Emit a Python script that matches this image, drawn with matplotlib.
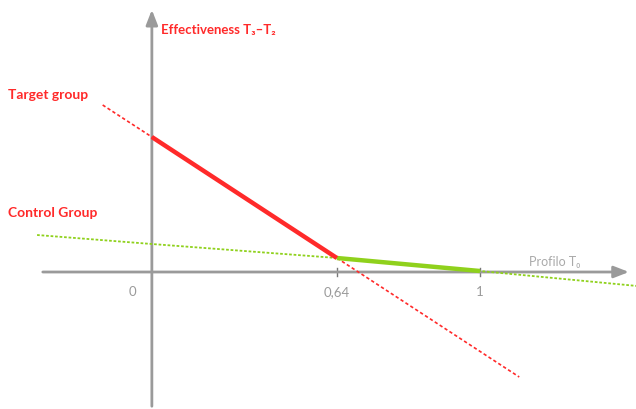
import numpy as np
import matplotlib
matplotlib.use("Agg")
import matplotlib.pyplot as plt

plt.rcParams['font.family'] = ['Lato', 'DejaVu Sans']

# tick values and labels on the profile axis
x_ticks = [0, 0.64, 1]
x_labels = ["0", "0,64", "1"]

# target group line (dashed extension + solid segment)
red_x = [-0.15, 0, 0.64, 1.12]
red_y = [1.67, 1.35, 0.14, -1.05]
red_solid_x = [0, 0.64]
red_solid_y = [1.35, 0.14]

# control group line
green_x = [-0.35, 0, 0.64, 1, 1.48]
green_y = [0.37, 0.28, 0.14, 0.01, -0.14]
green_solid_x = [0.64, 1]
green_solid_y = [0.14, 0.01]

# schematic axis: 0.64 is not drawn to scale in the original
brk_in = [-5, 0, 0.64, 1, 5]
brk_out = [-5, 0, 0.564, 1, 5]
def fwd(v):
    return np.interp(v, brk_in, brk_out)
def inv(v):
    return np.interp(v, brk_out, brk_in)

fig = plt.figure(figsize=(6.36, 4.10), dpi=100)
ax = fig.add_axes([0, 0, 1, 1])
ax.set_xscale('function', functions=(fwd, inv))
ax.set_xlim(-0.463, 1.476)
ax.set_ylim(-1.37, 2.73)
ax.axis('off')

gray = '#9a9a9a'
red = '#ff2a2a'
green = '#8fd11c'

# axes with arrows
ax.annotate('', xy=(1.463, 0), xytext=(-0.341, 0),
            arrowprops=dict(arrowstyle='-|>,head_length=0.9,head_width=0.35', color=gray, lw=2))
ax.annotate('', xy=(0, 2.65), xytext=(0, -1.37),
            arrowprops=dict(arrowstyle='-|>,head_length=0.9,head_width=0.35', color=gray, lw=2))

ax.plot(green_x, green_y, color=green, lw=1.3, ls=(0, (1.5, 1)), zorder=3)
ax.plot(green_solid_x, green_solid_y, color=green, lw=3.2, solid_capstyle='butt', zorder=4)
ax.plot(red_x, red_y, color=red, lw=1.2, ls=(0, (2, 1.5)), zorder=3)
ax.plot(red_solid_x, red_solid_y, color=red, lw=3.2, solid_capstyle='butt', zorder=4)

for xv, lab in zip(x_ticks, x_labels):
    if xv != 0:
        ax.plot([xv, xv], [-0.04, 0.04], color='#777777', lw=1)
    xt = -0.06 if xv == 0 else xv
    ax.text(xt, -0.19, lab, color=gray, fontsize=9.5, ha='center', va='center')

ax.text(0.03, 2.43, "Effectiveness T\u2083\u2013T\u2082", color=red, fontsize=9.5,
        fontweight='bold', ha='left', va='center')
ax.text(-0.44, 1.78, "Target group", color=red, fontsize=10, fontweight='bold',
        ha='left', va='center')
ax.text(-0.44, 0.60, "Control Group", color=red, fontsize=10, fontweight='bold',
        ha='left', va='center')
ax.text(1.15, 0.11, "Profilo T\u2080", color='#aaaaaa', fontsize=9, ha='left', va='center')

fig.savefig("out.png", dpi=100)
